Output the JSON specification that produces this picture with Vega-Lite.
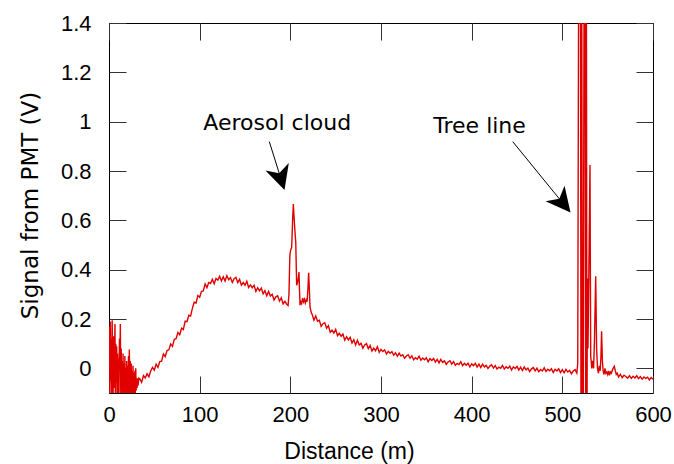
{
  "$schema": "https://vega.github.io/schema/vega-lite/v6.json",
  "autosize": {"type": "none"},
  "padding": {"left": 109, "top": 23, "right": 21, "bottom": 71},
  "width": 544,
  "height": 370,
  "background": "white",
  "config": {"view": {"stroke": "black", "strokeWidth": 1}},
  "datasets": {
    "signal": [
      {"d":0,"v":0.02},{"d":0.5,"v":0.17},{"d":1,"v":-0.12},{"d":1.5,"v":0.19},{"d":2,"v":-0.05},{"d":2.5,"v":0.12},{"d":3,"v":-0.13},{"d":3.5,"v":0.195},{"d":4,"v":0.02},{"d":4.5,"v":-0.13},{"d":5,"v":0.13},{"d":5.5,"v":-0.08},{"d":6,"v":0.05},{"d":6.6,"v":0.18},{"d":7,"v":-0.13},{"d":7.5,"v":0.1},{"d":8,"v":-0.06},{"d":8.5,"v":0.09},{"d":9,"v":-0.13},{"d":9.5,"v":0.06},{"d":10,"v":-0.1},{"d":10.5,"v":0.04},{"d":11,"v":-0.13},{"d":11.5,"v":0.12},{"d":12,"v":0.02},{"d":12.5,"v":0.18},{"d":13,"v":-0.12},{"d":13.5,"v":0.08},{"d":14,"v":-0.13},{"d":14.5,"v":0.03},{"d":15,"v":-0.12},{"d":15.5,"v":0.06},{"d":16,"v":-0.13},{"d":16.5,"v":0.02},{"d":17,"v":-0.11},{"d":17.5,"v":0.05},{"d":18,"v":-0.12},{"d":18.5,"v":0.0},{"d":19,"v":-0.12},{"d":19.5,"v":0.03},{"d":20,"v":-0.11},{"d":20.5,"v":0.01},{"d":21,"v":-0.12},{"d":21.5,"v":0.05},{"d":22,"v":-0.1},{"d":22.4,"v":0.076},{"d":23,"v":-0.11},{"d":23.5,"v":0.03},{"d":24,"v":-0.1},{"d":24.5,"v":0.02},{"d":25,"v":-0.11},{"d":25.5,"v":-0.01},{"d":26,"v":-0.1},{"d":26.5,"v":0.01},{"d":27,"v":-0.11},{"d":27.5,"v":-0.02},{"d":28,"v":-0.1},{"d":28.5,"v":-0.01},{"d":29,"v":-0.1},{"d":29.5,"v":0.0},{"d":30,"v":-0.09},{"d":30.5,"v":-0.04},{"d":31,"v":-0.08},{"d":31.5,"v":-0.04},{"d":32,"v":-0.07},{"d":33,"v":-0.04},
      {"d":34,"v":-0.043},{"d":36,"v":-0.057},{"d":38,"v":-0.029},{"d":40,"v":-0.039},{"d":42,"v":-0.022},{"d":44,"v":-0.034},{"d":46,"v":-0.011},{"d":48,"v":0.004},{"d":50,"v":-0.007},{"d":52,"v":0.017},{"d":54,"v":0.004},{"d":56,"v":0.027},{"d":58,"v":0.029},{"d":60,"v":0.058},{"d":62,"v":0.047},{"d":64,"v":0.072},{"d":66,"v":0.075},{"d":68,"v":0.099},{"d":70,"v":0.089},{"d":72,"v":0.118},{"d":74,"v":0.12},{"d":76,"v":0.145},{"d":78,"v":0.136},{"d":80,"v":0.163},{"d":82,"v":0.157},{"d":84,"v":0.191},{"d":86,"v":0.189},{"d":88,"v":0.215},{"d":90,"v":0.212},{"d":92,"v":0.244},{"d":94,"v":0.268},{"d":96,"v":0.265},{"d":98,"v":0.295},{"d":100,"v":0.288},{"d":102,"v":0.312},{"d":104,"v":0.314},{"d":106,"v":0.342},{"d":108,"v":0.327},{"d":110,"v":0.348},{"d":112,"v":0.344},{"d":114,"v":0.361},{"d":116,"v":0.343},{"d":118,"v":0.364},{"d":120,"v":0.358},{"d":122,"v":0.373},{"d":124,"v":0.354},{"d":126,"v":0.371},{"d":128,"v":0.354},{"d":130,"v":0.376},{"d":132,"v":0.359},{"d":134,"v":0.368},{"d":136,"v":0.348},{"d":138,"v":0.363},{"d":140,"v":0.369},{"d":142,"v":0.348},{"d":144,"v":0.361},{"d":146,"v":0.337},{"d":148,"v":0.348},{"d":150,"v":0.337},{"d":152,"v":0.353},{"d":154,"v":0.328},{"d":156,"v":0.338},{"d":158,"v":0.327},{"d":160,"v":0.337},{"d":162,"v":0.312},{"d":164,"v":0.327},{"d":166,"v":0.314},{"d":168,"v":0.325},{"d":170,"v":0.302},{"d":172,"v":0.315},{"d":174,"v":0.294},{"d":176,"v":0.312},{"d":178,"v":0.293},{"d":180,"v":0.3},{"d":182,"v":0.277},{"d":184,"v":0.29},{"d":186,"v":0.294},{"d":188,"v":0.273},{"d":190,"v":0.286},{"d":192,"v":0.261},{"d":194,"v":0.272},{"d":196,"v":0.26},{"d":197.5,"v":0.255},
      {"d":198.5,"v":0.3},{"d":199.5,"v":0.46},{"d":200.4,"v":0.48},{"d":201.5,"v":0.49},{"d":202.5,"v":0.6},{"d":203.3,"v":0.666},{"d":204,"v":0.62},{"d":205,"v":0.56},{"d":206,"v":0.51},{"d":206.6,"v":0.4},{"d":207,"v":0.337},{"d":208,"v":0.35},{"d":209,"v":0.37},{"d":209.5,"v":0.39},{"d":210,"v":0.33},{"d":210.7,"v":0.256},{"d":211.5,"v":0.27},{"d":212.5,"v":0.262},{"d":213.5,"v":0.285},{"d":214.5,"v":0.27},{"d":215.5,"v":0.28},{"d":216.5,"v":0.265},{"d":217.5,"v":0.278},{"d":218.5,"v":0.27},{"d":219.5,"v":0.33},{"d":220.2,"v":0.387},{"d":221,"v":0.32},{"d":221.7,"v":0.249},{"d":222.5,"v":0.235},{"d":223.5,"v":0.222},
      {"d":224,"v":0.22},{"d":226,"v":0.195},{"d":228,"v":0.212},{"d":230,"v":0.191},{"d":232,"v":0.195},{"d":234,"v":0.17},{"d":236,"v":0.181},{"d":238,"v":0.185},{"d":240,"v":0.163},{"d":242,"v":0.173},{"d":244,"v":0.146},{"d":246,"v":0.155},{"d":248,"v":0.143},{"d":250,"v":0.158},{"d":252,"v":0.132},{"d":254,"v":0.142},{"d":256,"v":0.13},{"d":258,"v":0.139},{"d":260,"v":0.114},{"d":262,"v":0.128},{"d":264,"v":0.115},{"d":266,"v":0.126},{"d":268,"v":0.103},{"d":270,"v":0.116},{"d":272,"v":0.095},{"d":274,"v":0.114},{"d":276,"v":0.095},{"d":278,"v":0.102},{"d":280,"v":0.081},{"d":282,"v":0.095},{"d":284,"v":0.1},{"d":286,"v":0.08},{"d":288,"v":0.093},{"d":290,"v":0.07},{"d":292,"v":0.082},{"d":294,"v":0.071},{"d":296,"v":0.088},{"d":298,"v":0.065},{"d":300,"v":0.077},
      {"d":302,"v":0.068},{"d":304,"v":0.075},{"d":306,"v":0.058},{"d":308,"v":0.069},{"d":310,"v":0.061},{"d":312,"v":0.068},{"d":314,"v":0.053},{"d":316,"v":0.063},{"d":318,"v":0.049},{"d":320,"v":0.062},{"d":322,"v":0.05},{"d":324,"v":0.055},{"d":326,"v":0.041},{"d":328,"v":0.05},{"d":330,"v":0.055},{"d":332,"v":0.041},{"d":334,"v":0.051},{"d":336,"v":0.035},{"d":338,"v":0.043},{"d":340,"v":0.037},{"d":342,"v":0.049},{"d":344,"v":0.033},{"d":346,"v":0.042},{"d":348,"v":0.035},{"d":350,"v":0.043},{"d":352,"v":0.027},{"d":354,"v":0.039},{"d":356,"v":0.032},{"d":358,"v":0.04},{"d":360,"v":0.025},{"d":362,"v":0.036},{"d":364,"v":0.022},{"d":366,"v":0.036},{"d":368,"v":0.024},{"d":370,"v":0.03},{"d":372,"v":0.016},{"d":374,"v":0.026},{"d":376,"v":0.031},{"d":378,"v":0.017},{"d":380,"v":0.027},{"d":382,"v":0.012},{"d":384,"v":0.02},{"d":386,"v":0.015},{"d":388,"v":0.027},{"d":390,"v":0.011},{"d":392,"v":0.02},{"d":394,"v":0.013},{"d":396,"v":0.021},{"d":398,"v":0.006},{"d":400,"v":0.018},
      {"d":402,"v":0.011},{"d":404,"v":0.02},{"d":406,"v":0.005},{"d":408,"v":0.017},{"d":410,"v":0.003},{"d":412,"v":0.017},{"d":414,"v":0.006},{"d":416,"v":0.012},{"d":418,"v":-0.001},{"d":420,"v":0.009},{"d":422,"v":0.014},{"d":424,"v":0.001},{"d":426,"v":0.011},{"d":428,"v":-0.003},{"d":430,"v":0.005},{"d":432,"v":0.0},{"d":434,"v":0.012},{"d":436,"v":-0.003},{"d":438,"v":0.006},{"d":440,"v":0.0},{"d":442,"v":0.009},{"d":444,"v":-0.007},{"d":446,"v":0.006},{"d":448,"v":-0.001},{"d":450,"v":0.008},{"d":452,"v":-0.007},{"d":454,"v":0.005},{"d":456,"v":-0.009},{"d":458,"v":0.006},{"d":460,"v":-0.006},{"d":462,"v":0.001},{"d":464,"v":-0.013},{"d":466,"v":-0.002},{"d":468,"v":0.003},{"d":470,"v":-0.01},{"d":472,"v":0.001},{"d":474,"v":-0.014},{"d":476,"v":-0.005},{"d":478,"v":-0.011},{"d":480,"v":0.002},{"d":482,"v":-0.013},{"d":484,"v":-0.004},{"d":486,"v":-0.01},{"d":488,"v":-0.002},{"d":490,"v":-0.017},{"d":492,"v":-0.004},{"d":494,"v":-0.011},{"d":496,"v":-0.002},{"d":498,"v":-0.017},{"d":500,"v":-0.005},{"d":502,"v":-0.018},{"d":504,"v":-0.004},{"d":506,"v":-0.015},{"d":508,"v":-0.008},{"d":510,"v":-0.022},{"d":512,"v":-0.011},{"d":514,"v":-0.005},{"d":516,"v":-0.019},
      {"d":517,"v":0.02},{"d":518,"v":1.6},{"d":519,"v":1.6},{"d":520,"v":1.6},{"d":520.6,"v":-0.3},{"d":521.4,"v":1.6},{"d":522.2,"v":-0.3},{"d":523,"v":-0.3},{"d":524,"v":1.6},{"d":525,"v":1.6},{"d":525.8,"v":-0.3},{"d":526.5,"v":1.6},{"d":527.2,"v":-0.3},{"d":527.6,"v":0.364},{"d":528.3,"v":0.08},{"d":529,"v":0.3},{"d":530.5,"v":0.824},{"d":531.3,"v":0.05},{"d":532.5,"v":0.0},{"d":533.5,"v":0.03},{"d":534.5,"v":0.0},{"d":535.5,"v":0.12},{"d":536.8,"v":0.373},{"d":537.8,"v":0.08},{"d":538.8,"v":0.0},{"d":539.8,"v":-0.02},{"d":540.8,"v":0.01},{"d":541.8,"v":-0.01},{"d":542.6,"v":0.05},{"d":543.3,"v":0.15},{"d":544.2,"v":0.03},{"d":545,"v":-0.01},{"d":546,"v":-0.025},{"d":547,"v":0.0},{"d":548,"v":-0.02},{"d":549,"v":-0.015},{"d":550,"v":-0.025},{"d":551,"v":-0.01},{"d":552,"v":-0.028},{"d":553,"v":-0.015},{"d":554,"v":-0.02},{"d":555,"v":-0.01},{"d":556,"v":0.0},{"d":557.3,"v":0.008},{"d":558.5,"v":-0.01},{"d":559.5,"v":-0.025},{"d":560.5,"v":-0.02},
      {"d":562,"v":-0.035},{"d":564,"v":-0.024},{"d":566,"v":-0.038},{"d":568,"v":-0.028},{"d":570,"v":-0.033},{"d":572,"v":-0.04},{"d":574,"v":-0.03},{"d":576,"v":-0.041},{"d":578,"v":-0.032},{"d":580,"v":-0.039},{"d":582,"v":-0.03},{"d":584,"v":-0.042},{"d":586,"v":-0.034},{"d":588,"v":-0.044},{"d":590,"v":-0.035},{"d":592,"v":-0.041},{"d":594,"v":-0.036},{"d":596,"v":-0.047},{"d":598,"v":-0.037},{"d":600,"v":-0.044}
    ],
    "arrows": [
      {"x1": 176.8, "y1": 0.919, "x2": 189.5, "y2": 0.77, "ang": -17.5},
      {"x1": 445.3, "y1": 0.919, "x2": 500.5, "y2": 0.67, "ang": -39.2}
    ],
    "labels": [
      {"x": 104, "y": 0.966, "text": "Aerosol cloud"},
      {"x": 357.7, "y": 0.953, "text": "Tree line"}
    ]
  },
  "layer": [
    {
      "data": {"name": "signal"},
      "mark": {"type": "line", "color": "#e00000", "strokeWidth": 1.4, "clip": true, "interpolate": "linear"},
      "encoding": {
        "x": {"field": "d", "type": "quantitative",
          "scale": {"domain": [0, 600], "nice": false, "zero": false},
          "axis": {"orient": "bottom", "values": [0,100,200,300,400,500,600], "format": "d",
            "tickSize": -17, "tickColor": "#333", "tickWidth": 1, "domain": false, "grid": false,
            "labelPadding": 28, "labelFont": "Liberation Sans", "labelFontSize": 22, "labelColor": "black",
            "labelFlush": false, "labelOverlap": false,
            "title": "Distance (m)", "titleFont": "Liberation Sans", "titleFontSize": 23, "titleFontWeight": "normal",
            "titleColor": "black", "titleX": 240, "titleY": 65, "titleBaseline": "alphabetic", "titleAlign": "center"}},
        "y": {"field": "v", "type": "quantitative",
          "scale": {"domain": [-0.1, 1.4], "nice": false, "zero": false},
          "axis": {"orient": "left", "values": [0,0.2,0.4,0.6,0.8,1,1.2,1.4], "format": "~g",
            "tickSize": -17, "tickColor": "#333", "tickWidth": 1, "domain": false, "grid": false,
            "labelPadding": 35, "labelFont": "Liberation Sans", "labelFontSize": 22, "labelColor": "black",
            "labelOverlap": false, "labelFlush": false,
            "title": "Signal from PMT (V)", "titleFont": "DejaVu Sans", "titleFontSize": 23, "titleFontWeight": "normal",
            "titleColor": "black", "titleAngle": -90, "titleX": -72, "titleY": 182, "titleBaseline": "alphabetic", "titleAlign": "center"}}
      }
    },
    {
      "data": {"name": "arrows"},
      "mark": {"type": "rule", "color": "black", "strokeWidth": 1},
      "encoding": {
        "x": {"field": "x1", "type": "quantitative",
          "axis": {"orient": "top", "values": [0,100,200,300,400,500,600], "labels": false, "title": null,
            "tickSize": -17, "tickColor": "#333", "domain": false, "grid": false}},
        "y": {"field": "y1", "type": "quantitative",
          "axis": {"orient": "right", "values": [0,0.2,0.4,0.6,0.8,1,1.2,1.4], "labels": false, "title": null,
            "tickSize": -17, "tickColor": "#333", "domain": false, "grid": false}},
        "x2": {"field": "x2"},
        "y2": {"field": "y2"}
      }
    },
    {
      "data": {"name": "arrows"},
      "mark": {"type": "point", "shape": "M0,1L-1,-1L0,-0.45L1,-1Z", "filled": true, "color": "black", "opacity": 1, "size": 600},
      "encoding": {
        "x": {"field": "x2", "type": "quantitative", "axis": null},
        "y": {"field": "y2", "type": "quantitative", "axis": null},
        "angle": {"field": "ang", "type": "quantitative", "scale": null}
      }
    },
    {
      "data": {"name": "labels"},
      "mark": {"type": "text", "font": "DejaVu Sans", "fontSize": 22, "align": "left", "baseline": "alphabetic", "color": "black"},
      "encoding": {
        "x": {"field": "x", "type": "quantitative", "axis": null},
        "y": {"field": "y", "type": "quantitative", "axis": null},
        "text": {"field": "text"}
      }
    }
  ],
  "resolve": {"axis": {"x": "independent", "y": "independent"}}
}
